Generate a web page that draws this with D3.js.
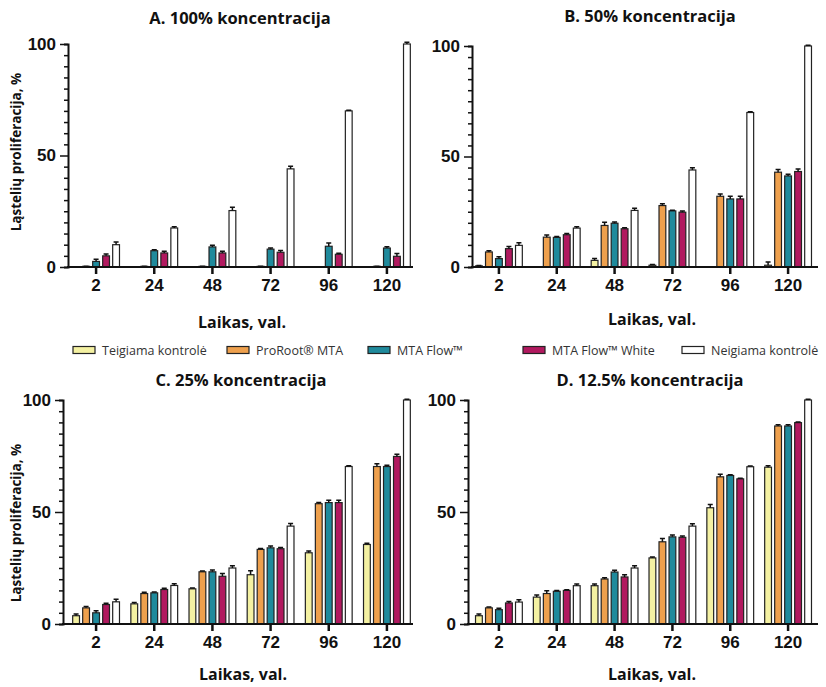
<!DOCTYPE html>
<html>
<head>
<meta charset="utf-8">
<script src="https://cdn.jsdelivr.net/npm/d3@7"></script>
<style>
  body { margin: 0; background: #fff; }
  svg { display: block; }
</style>
</head>
<body>
<div id="chart"></div>
<script>
// categories and series
var groups = ["2", "24", "48", "72", "96", "120"];
var series = ["Teigiama kontrolė", "ProRoot® MTA", "MTA Flow™", "MTA Flow™ White", "Neigiama kontrolė"];
var colors = ["#f4f1a2", "#eea04d", "#1f8a9c", "#b1195f", "#ffffff"];
var panelTitles = ["A. 100% koncentracija", "B. 50% koncentracija", "C. 25% koncentracija", "D. 12.5% koncentracija"];

// A. 100%
var valuesA = [
  [0, 0, 0, 0, 0, 0],
  [0.3, 0.3, 0.3, 0.3, 0, 0.3],
  [2.5, 7.3, 9, 8, 9.3, 8.5],
  [5, 6.3, 6.3, 6.6, 5.7, 4.8],
  [10, 17.5, 25.3, 44, 70, 100]
];
var errorsA = [
  [0, 0, 0, 0, 0, 0],
  [0, 0, 0, 0, 0, 0],
  [1, 0.4, 0.8, 0.5, 1.5, 0.6],
  [0.8, 0.8, 0.8, 0.8, 0.5, 1.2],
  [1.2, 0.6, 1.5, 1.2, 0.3, 0.8]
];
// B. 50%
var valuesB = [
  [0.5, 0, 3, 0.8, 0, 0.8],
  [6.8, 13.5, 18.8, 27.8, 32, 42.9],
  [3.8, 13.4, 19.8, 25.4, 30.8, 41.2],
  [8.3, 14.6, 17.3, 24.8, 30.8, 43.2],
  [9.8, 17.6, 25.6, 43.9, 69.9, 100]
];
var errorsB = [
  [0.2, 0, 0.8, 0.3, 0, 1.5],
  [0.6, 1, 1.5, 0.8, 1, 1.2],
  [0.8, 0.4, 0.6, 0.3, 1.2, 0.8],
  [1, 0.6, 0.5, 0.5, 1.2, 1.2],
  [1.2, 0.6, 1, 1, 0.3, 0.3]
];
// C. 25%
var valuesC = [
  [3.7, 9, 15.7, 22, 31.8, 35.5],
  [7.2, 13.6, 23.3, 33.3, 53.7, 70.3],
  [5, 13.9, 23.3, 34, 54.2, 70.3],
  [8.7, 15.4, 21.3, 33.6, 54.2, 74.8],
  [9.9, 17.2, 25, 43.7, 70.3, 100]
];
var errorsC = [
  [0.8, 0.6, 0.4, 1.8, 0.8, 0.6],
  [0.6, 0.6, 0.4, 0.4, 0.5, 1.2],
  [0.9, 0.4, 0.8, 0.8, 1, 0.6],
  [0.6, 0.6, 1.2, 0.6, 1, 1],
  [1.2, 0.8, 1, 1.2, 0.3, 0.3]
];
// D. 12.5%
var valuesD = [
  [3.7, 12, 17.1, 29.5, 51.9, 70],
  [7.2, 13.6, 20.1, 36.7, 65.7, 88.4],
  [6.4, 14.6, 23.2, 38.9, 66.3, 88.4],
  [9.4, 15, 21, 38.7, 64.8, 89.9],
  [9.8, 17.1, 25, 43.7, 70.2, 100]
];
var errorsD = [
  [0.8, 1, 0.8, 0.4, 1.5, 0.6],
  [0.4, 1.2, 0.6, 1.5, 1.2, 0.5],
  [0.6, 0.4, 0.8, 0.8, 0.3, 0.5],
  [0.6, 0.3, 1, 0.6, 0.3, 0.3],
  [1, 0.8, 1, 1, 0.3, 0.3]
];

var yTicks = d3.range(0, 101, 5);

var svg = d3.select("#chart").append("svg")
  .attr("width", 826)
  .attr("height", 687);

var panels = [
  {title: panelTitles[0], values: valuesA, errors: errorsA, axisX: 68, x0: 67, x1: 416, y0: 267, y1: 44, axisEnd: 413, titleX: 240, titleY: 24, xTitleY: 328, yTitleY: 152},
  {title: panelTitles[1], values: valuesB, errors: errorsB, axisX: 472, x0: 470, x1: 817, y0: 267, y1: 46, axisEnd: 818, titleX: 650, titleY: 22, xTitleY: 325},
  {title: panelTitles[2], values: valuesC, errors: errorsC, axisX: 63, x0: 67, x1: 416, y0: 624, y1: 400, axisEnd: 413, titleX: 241, titleY: 386, xTitleY: 680, yTitleY: 523},
  {title: panelTitles[3], values: valuesD, errors: errorsD, axisX: 468, x0: 470, x1: 817, y0: 624, y1: 400, axisEnd: 818, titleX: 650, titleY: 386, xTitleY: 680}
];

var titleFont = "'Open Sans', 'DejaVu Sans', sans-serif";
var tickFont = "'Liberation Sans', Arial, sans-serif";

panels.forEach(function(p) {
  var g = svg.append("g");

  var x = d3.scaleBand().domain(groups).range([p.x0, p.x1]);
  var xs = d3.scaleBand().domain(series).range([-25, 25]).paddingInner(0.32).paddingOuter(0.16);
  var y = d3.scaleLinear().domain([0, 100]).range([p.y0, p.y1]);

  // bars
  series.forEach(function(s, si) {
    var sg = g.append("g");
    sg.selectAll("rect")
      .data(groups)
      .enter().append("rect")
      .attr("x", function(d) { return x(d) + x.bandwidth() / 2 + xs(s); })
      .attr("width", xs.bandwidth())
      .attr("y", function(d, i) { return y(p.values[si][i]); })
      .attr("height", function(d, i) { return y(0) - y(p.values[si][i]); })
      .attr("fill", colors[si])
      .attr("stroke", "#222")
      .attr("stroke-width", 1.2);

    // error bars (upper only)
    sg.selectAll("path.err")
      .data(groups)
      .enter().append("path")
      .attr("class", "err")
      .attr("d", function(d, i) {
        var cx = x(d) + x.bandwidth() / 2 + xs(s) + xs.bandwidth() / 2;
        var top = y(p.values[si][i] + p.errors[si][i]);
        var base = y(p.values[si][i]);
        return "M" + cx + "," + base + "V" + top + "M" + (cx - 2.5) + "," + top + "H" + (cx + 2.5);
      })
      .attr("stroke", "#111")
      .attr("stroke-width", 1.5)
      .attr("fill", "none");
  });

  // y axis
  var ya = g.append("g")
    .attr("transform", "translate(" + p.axisX + ",0)")
    .call(d3.axisLeft(y).tickValues(yTicks).tickSize(4).tickPadding(8)
      .tickFormat(function(d) { return d % 50 === 0 ? d : ""; }));
  ya.select(".domain").attr("stroke", "#111").attr("stroke-width", 2);
  ya.selectAll(".tick line").attr("stroke", "#111").attr("stroke-width", 1.5)
    .attr("x2", function(d) { return d % 50 === 0 ? -8 : -4; });
  ya.selectAll(".tick text")
    .attr("x", -12)
    .attr("fill", "#111")
    .style("font-family", tickFont)
    .style("font-weight", "bold")
    .style("font-size", "17px");

  // x axis
  var xa = g.append("g")
    .attr("transform", "translate(0," + p.y0 + ")")
    .call(d3.axisBottom(x).tickSize(7).tickPadding(5));
  xa.select(".domain").remove();
  xa.append("line")
    .attr("x1", p.axisX - 1).attr("x2", p.axisEnd)
    .attr("stroke", "#111").attr("stroke-width", 2);
  xa.selectAll(".tick line").attr("stroke", "#111").attr("stroke-width", 2.5);
  xa.selectAll(".tick text")
    .attr("fill", "#111")
    .style("font-family", tickFont)
    .style("font-weight", "bold")
    .style("font-size", "17px");

  // titles
  g.append("text")
    .attr("x", p.titleX).attr("y", p.titleY)
    .attr("text-anchor", "middle")
    .style("font-family", titleFont)
    .style("font-weight", "bold")
    .style("font-size", "16.5px")
    .attr("fill", "#111")
    .text(p.title);

  g.append("text")
    .attr("x", p.titleX + 2).attr("y", p.xTitleY)
    .attr("text-anchor", "middle")
    .style("font-family", titleFont)
    .style("font-weight", "bold")
    .style("font-size", "16px")
    .attr("fill", "#111")
    .text("Laikas, val.");

  if (p.yTitleY) {
    g.append("text")
      .attr("transform", "translate(21," + p.yTitleY + ") rotate(-90)")
      .attr("text-anchor", "middle")
      .style("font-family", titleFont)
      .style("font-weight", "bold")
      .style("font-size", "13.5px")
      .attr("fill", "#111")
      .text("Ląstelių proliferacija, %");
  }
});

// legend
var legendX = [73, 227, 368, 523, 682];
var legend = svg.append("g").attr("transform", "translate(0,350)");
series.forEach(function(s, i) {
  legend.append("rect")
    .attr("x", legendX[i]).attr("y", -3.5)
    .attr("width", 22).attr("height", 7)
    .attr("fill", colors[i])
    .attr("stroke", "#222").attr("stroke-width", 1.2);
  legend.append("text")
    .attr("x", legendX[i] + 29).attr("y", 5)
    .style("font-family", titleFont)
    .style("font-size", "12.5px")
    .attr("fill", "#333")
    .text(s);
});
</script>
</body>
</html>
